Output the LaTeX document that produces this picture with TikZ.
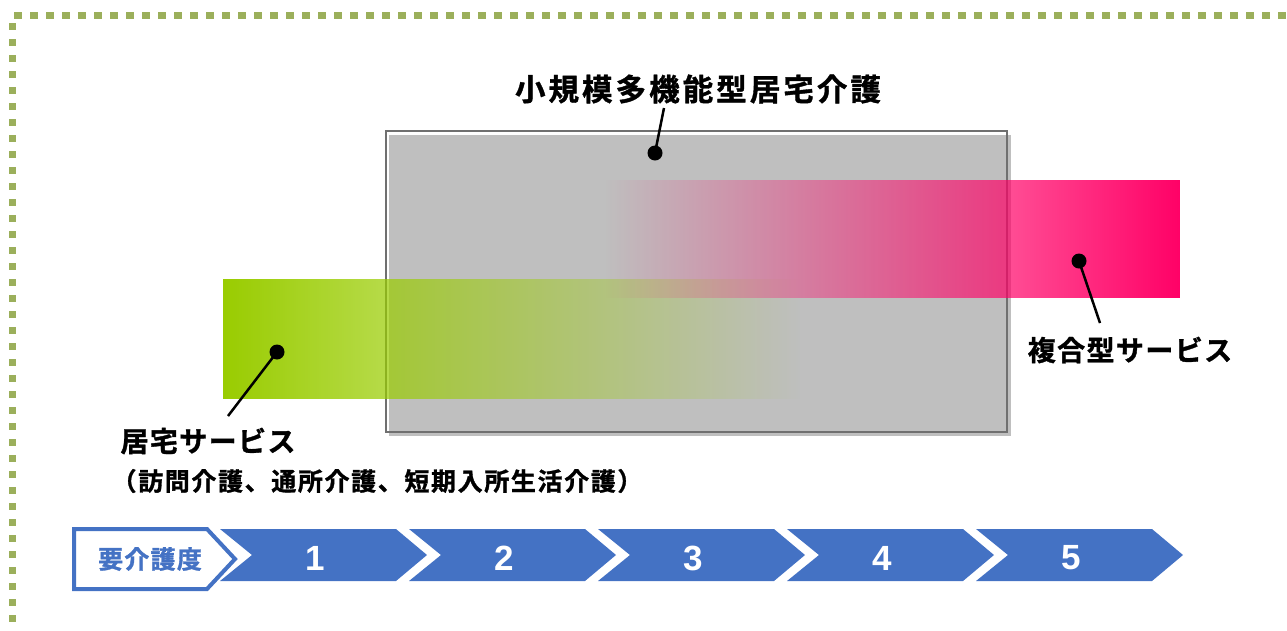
\documentclass[tikz,border=0pt]{standalone}
\usepackage{fontspec}
\usetikzlibrary{fadings}
\newfontfamily\jpb[FakeBold=1.2]{Noto Sans CJK JP Bold}
\newfontfamily\numf{Liberation Sans Bold}
\definecolor{bordgreen}{HTML}{9BAF5B}
\definecolor{chevblue}{HTML}{4472C4}
\definecolor{boxgray}{HTML}{BFBFBF}
\definecolor{boxline}{HTML}{707070}
\definecolor{pinkc}{HTML}{FF0066}
\definecolor{greenc}{HTML}{99CC00}
\tikzset{
  dotmark/.style={circle,fill=black,inner sep=0pt,minimum size=15pt},
  callout/.style={line width=2.5pt,black},
  lbl/.style={inner sep=0pt,font=\jpb\fontsize{28}{32}\selectfont\addfontfeatures{LetterSpace=5}},
  numlbl/.style={inner sep=0pt,text=white,font=\numf\fontsize{35}{38}\selectfont},
}
\begin{document}
\begin{tikzpicture}[x=1pt,y=-1pt]
\useasboundingbox (0,0) rectangle (1287,630);
% dotted frame
\draw[bordgreen,line width=7pt,dash pattern=on 8pt off 8pt] (14,15) -- (1295,15);
\draw[bordgreen,line width=7pt,dash pattern=on 7pt off 9pt] (12,23) -- (12,640);
% gray box with shadow
\fill[boxgray] (389,135) rectangle (1011,436);
\draw[boxline,line width=2.5pt] (386,131) rectangle (1007,432);
% green band
\fill[greenc,path fading=east] (223,279) rectangle (800,399);
% pink band
\fill[pinkc,path fading=west] (605,180) rectangle (1181,298);
% callouts
\node[dotmark] (d1) at (655,153) {};
\node[dotmark] (d2) at (1079,261) {};
\node[dotmark] (d3) at (277,352) {};
\coordinate (e1) at (664,108);
\coordinate (e2) at (1100,323);
\coordinate (e3) at (228,416);
\draw[callout] (d1.center) -- (e1);
\draw[callout] (d2.center) -- (e2);
\draw[callout] (d3.center) -- (e3);
\node[lbl,font=\jpb\fontsize{30.5}{34}\selectfont\addfontfeatures{LetterSpace=10}] (t1) at (698,89) {小規模多機能型居宅介護};
\node[lbl] (t2) at (1130,350) {複合型サービス};
\node[lbl] (t3) at (208,441) {居宅サービス};
\node[lbl,font=\jpb\fontsize{25}{28}\selectfont\addfontfeatures{LetterSpace=6.5}] (t4) at (377,481) {（訪問介護、通所介護、短期入所生活介護）};
% home plate
\draw[chevblue,fill=white,line width=4pt] (74,529) -- (207,529) -- (235,559) -- (207,589) -- (74,589) -- cycle;
\node[inner sep=0pt,text=chevblue,font=\jpb\fontsize{25}{28}\selectfont\addfontfeatures{LetterSpace=5}] (hp) at (150,559) {要介護度};
% chevrons
\foreach \i in {0,...,4}{
  \pgfmathsetmacro{\L}{220+189*\i}
  \fill[chevblue] (\L,529) -- ({\L+176},529) -- ({\L+207},555) -- ({\L+176},581) -- (\L,581) -- ({\L+32},555) -- cycle;
}
\node[numlbl] (n1) at (315,558) {1};
\node[numlbl] (n2) at (504,558) {2};
\node[numlbl] (n3) at (693,558) {3};
\node[numlbl] (n4) at (882,558) {4};
\node[numlbl] (n5) at (1071,558) {5};
\end{tikzpicture}
\end{document}
